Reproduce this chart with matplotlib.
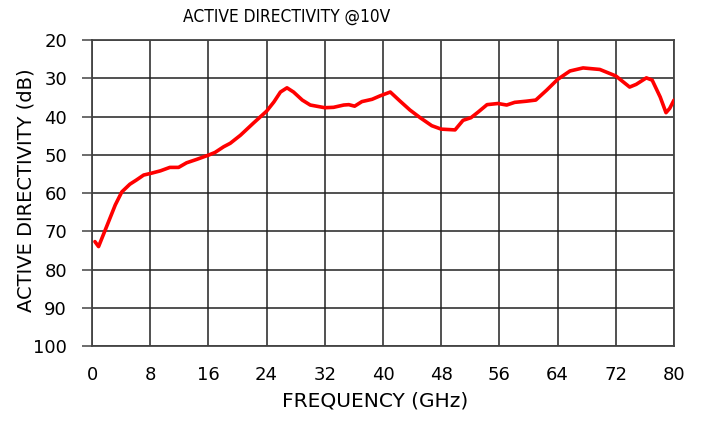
import matplotlib.pyplot as plt
import numpy as np

plt.rcParams['font.family'] = ['DejaVu Sans']

# values
freq_ghz = [0.4, 0.9, 2.0, 3.2, 4.1, 5.2, 6.1, 7.1, 8.0, 9.4, 10.7, 11.9, 13.0,
            14.4, 16.0, 16.9, 18.1, 19.0, 20.4, 22.2, 24.0, 25.0, 25.9, 26.8,
            27.7, 28.9, 30.0, 32.0, 33.2, 34.6, 35.3, 36.1, 37.1, 38.5, 39.6,
            41.0, 42.3, 43.7, 45.1, 46.7, 48.0, 49.9, 51.0, 52.1, 53.1, 54.3,
            55.8, 57.0, 58.1, 59.7, 61.0, 62.5, 64.0, 65.7, 67.5, 69.8, 72.0,
            73.9, 74.8, 76.2, 77.0, 78.1, 78.9, 79.4, 80.0]
directivity_db = [72.7, 74.0, 68.8, 63.1, 59.7, 57.7, 56.6, 55.3, 54.9, 54.2,
                  53.3, 53.3, 52.1, 51.2, 50.1, 49.4, 47.9, 47.0, 44.9, 41.7,
                  38.6, 36.2, 33.6, 32.5, 33.6, 35.7, 37.0, 37.7, 37.6, 37.0,
                  36.9, 37.3, 36.1, 35.5, 34.6, 33.6, 35.9, 38.3, 40.3, 42.4,
                  43.3, 43.5, 41.0, 40.3, 38.8, 36.9, 36.6, 37.0, 36.3, 36.0,
                  35.7, 33.1, 30.3, 28.1, 27.3, 27.7, 29.4, 32.3, 31.6, 29.9,
                  30.5, 34.9, 39.0, 37.9, 35.7]

x_ticks = np.arange(0, 81, 8)
y_ticks = np.arange(20, 101, 10)

fig, ax = plt.subplots(figsize=(7.04, 4.21), dpi=100)
fig.subplots_adjust(left=0.1307, right=0.9574, top=0.905, bottom=0.178)

ax.plot(freq_ghz, directivity_db, color='#ff0000', linewidth=2.6,
        solid_joinstyle='round', solid_capstyle='round', zorder=3)

ax.set_xlim(0, 80)
ax.set_ylim(100, 20)
ax.set_xticks(x_ticks)
ax.set_yticks(y_ticks)
ax.grid(True, color='#222222', linewidth=1.1)
for s in ax.spines.values():
    s.set_color('#444444')
    s.set_linewidth(1.3)
ax.tick_params(axis='x', length=0, pad=14, labelsize=13)
ax.tick_params(axis='y', length=7, width=1.1, color='#444444', pad=11, labelsize=13)

# title sits left of centre in the original, narrow font
fig.text(0.4077, 1 - 17 / 421, 'ACTIVE DIRECTIVITY @10V', ha='center', va='center',
         fontsize=12.4, family=['Liberation Sans Narrow', 'DejaVu Sans'],
         fontstretch='condensed')
ax.set_xlabel('FREQUENCY (GHz)', fontsize=14.5)
ax.xaxis.set_label_coords(0.486, -0.15)
ax.set_ylabel('ACTIVE DIRECTIVITY (dB)', fontsize=14)
ax.yaxis.set_label_coords(-0.097, 0.51)

fig.savefig('out.png', dpi=100)
